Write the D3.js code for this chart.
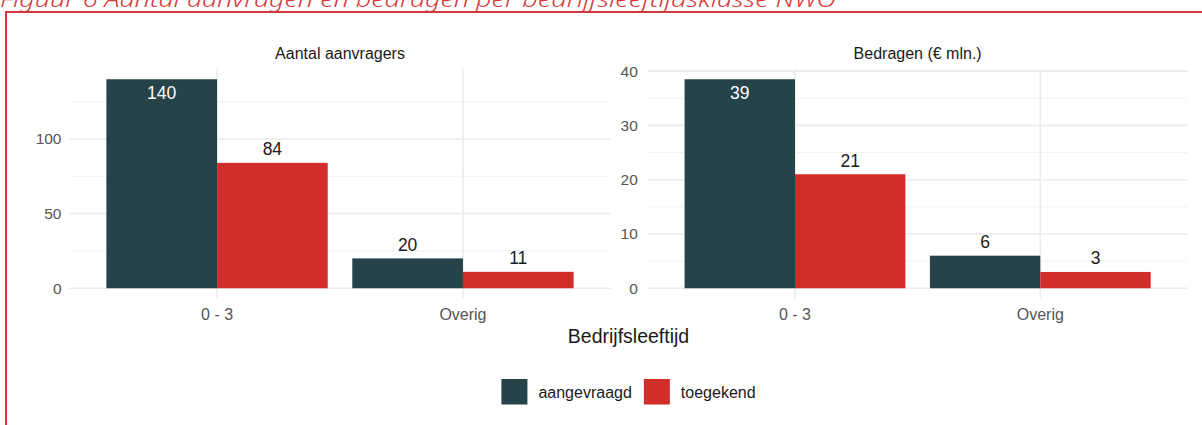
<!DOCTYPE html>
<html>
<head>
<meta charset="utf-8">
<script src="https://cdn.jsdelivr.net/npm/d3@7"></script>
<style>
  body { margin: 0; background: #fff; }
  svg { display: block; font-family: "Liberation Sans", Arial, sans-serif; }
</style>
</head>
<body>
<script>
const width = 1202;
const height = 425;

const categories = ["0 - 3", "Overig"];
const series = ["aangevraagd", "toegekend"];
const colors = ["#26434a", "#d32d2b"];

const aantalAangevraagd = [140, 20];
const aantalToegekend = [84, 11];
const bedragAangevraagd = [38.5, 6];
const bedragToegekend = [21, 3];

const aantalTicks = [0, 50, 100];
const bedragTicks = [0, 10, 20, 30, 40];

const panels = [
  { title: "Aantal aanvragers", values: [aantalAangevraagd, aantalToegekend], ticks: aantalTicks, x0: 69.5, x1: 610.5, pad: 8 },
  { title: "Bedragen (€ mln.)", values: [bedragAangevraagd, bedragToegekend], ticks: bedragTicks, x0: 647.8, x1: 1187.5, pad: 10 },
];

const panelTop = 68.8;
const panelBottom = 298.7;

const svg = d3
  .select("body")
  .append("svg")
  .attr("width", width)
  .attr("height", height);

// figure caption (cut off at the top in the original) and red frame
svg.append("text")
  .attr("x", 0)
  .attr("y", 6.5)
  .attr("font-family", "'Noto Sans', sans-serif")
  .attr("font-style", "italic")
  .attr("font-weight", 300)
  .attr("font-size", 22)
  .attr("fill", "#d63a3a")
  .attr("textLength", 836)
  .attr("lengthAdjust", "spacingAndGlyphs")
  .text("Figuur 6 Aantal aanvragen en bedragen per bedrijfsleeftijdsklasse NWO");

svg.append("rect")
  .attr("x", 6)
  .attr("y", 12)
  .attr("width", 1220)
  .attr("height", 440)
  .attr("fill", "none")
  .attr("stroke", "#d0393d")
  .attr("stroke-width", 2);

panels.forEach((p) => {
  const maxV = d3.max(p.values.flat());
  const y = d3
    .scaleLinear()
    .domain([-0.05 * maxV, maxV * 1.05])
    .range([panelBottom, panelTop]);

  const x = d3
    .scaleBand()
    .domain(categories)
    .range([p.x0, p.x1])
    .paddingInner(0.1)
    .paddingOuter(0.15);

  const xs = d3.scaleBand().domain(series).range([0, x.bandwidth()]);

  const g = svg.append("g");

  // minor grid
  const step = p.ticks[1] - p.ticks[0];
  const minor = d3.range(step / 2, y.domain()[1], step);
  g.selectAll(".minor")
    .data(minor)
    .enter()
    .append("line")
    .attr("x1", p.x0)
    .attr("x2", p.x1)
    .attr("y1", (d) => y(d))
    .attr("y2", (d) => y(d))
    .attr("stroke", "#f1f1f1")
    .attr("stroke-width", 0.9);

  // major grid
  g.selectAll(".major")
    .data(p.ticks)
    .enter()
    .append("line")
    .attr("x1", p.x0)
    .attr("x2", p.x1)
    .attr("y1", (d) => y(d))
    .attr("y2", (d) => y(d))
    .attr("stroke", "#ebebeb")
    .attr("stroke-width", 1.6);

  g.selectAll(".vgrid")
    .data(categories)
    .enter()
    .append("line")
    .attr("x1", (d) => x(d) + x.bandwidth() / 2)
    .attr("x2", (d) => x(d) + x.bandwidth() / 2)
    .attr("y1", panelTop)
    .attr("y2", panelBottom)
    .attr("stroke", "#ebebeb")
    .attr("stroke-width", 1.6);

  // bars
  series.forEach((s, si) => {
    g.selectAll(".bar" + si)
      .data(categories)
      .enter()
      .append("rect")
      .attr("x", (c) => x(c) + xs(s))
      .attr("width", xs.bandwidth())
      .attr("y", (c, ci) => y(p.values[si][ci]))
      .attr("height", (c, ci) => y(0) - y(p.values[si][ci]))
      .attr("fill", colors[si]);

    g.selectAll(".lab" + si)
      .data(categories)
      .enter()
      .append("text")
      .attr("x", (c) => x(c) + xs(s) + xs.bandwidth() / 2)
      .attr("y", (c, ci) => {
        const v = p.values[si][ci];
        return v === maxV ? y(v) + 20 : y(v) - 7.5;
      })
      .attr("text-anchor", "middle")
      .attr("font-size", 17.5)
      .attr("fill", (c, ci) => (p.values[si][ci] === maxV ? "#ffffff" : "#1a1a1a"))
      .text((c, ci) => Math.round(p.values[si][ci]));
  });

  // y axis
  const yAxis = d3
    .axisLeft(y)
    .tickValues(p.ticks)
    .tickSize(0)
    .tickPadding(p.pad)
    .tickFormat(d3.format("d"));
  const ya = svg.append("g").attr("transform", `translate(${p.x0},0)`).call(yAxis);
  ya.select(".domain").remove();
  ya.selectAll("text")
    .attr("font-family", "Liberation Sans, Arial, sans-serif")
    .attr("font-size", 15.5)
    .attr("fill", "#555");

  // x axis
  const xAxis = d3.axisBottom(x).tickSize(0).tickPadding(10);
  const xa = svg.append("g").attr("transform", `translate(0,${panelBottom})`).call(xAxis);
  xa.select(".domain").remove();
  xa.selectAll("text")
    .attr("font-family", "Liberation Sans, Arial, sans-serif")
    .attr("font-size", 16)
    .attr("fill", "#555");

  // strip title
  svg.append("text")
    .attr("x", (p.x0 + p.x1) / 2)
    .attr("y", 59)
    .attr("text-anchor", "middle")
    .attr("font-size", 16)
    .attr("fill", "#1a1a1a")
    .text(p.title);
});

svg.append("text")
  .attr("x", (panels[0].x0 + panels[1].x1) / 2)
  .attr("y", 342.7)
  .attr("text-anchor", "middle")
  .attr("font-size", 19.5)
  .attr("fill", "#1a1a1a")
  .text("Bedrijfsleeftijd");

// legend
const legend = svg.append("g");
let lx = 0;
series.forEach((s, i) => {
  const item = legend.append("g").attr("transform", `translate(${lx},0)`);
  item.append("rect")
    .attr("x", 0)
    .attr("y", 379)
    .attr("width", 26)
    .attr("height", 25.5)
    .attr("fill", colors[i]);
  const t = item.append("text")
    .attr("x", 37)
    .attr("y", 397.5)
    .attr("font-size", 16)
    .attr("fill", "#1a1a1a")
    .text(s);
  lx += 37 + t.node().getComputedTextLength() + 12;
});
const legendW = lx - 12;
legend.attr("transform", `translate(${(panels[0].x0 + panels[1].x1) / 2 - legendW / 2},0)`);
</script>
</body>
</html>
